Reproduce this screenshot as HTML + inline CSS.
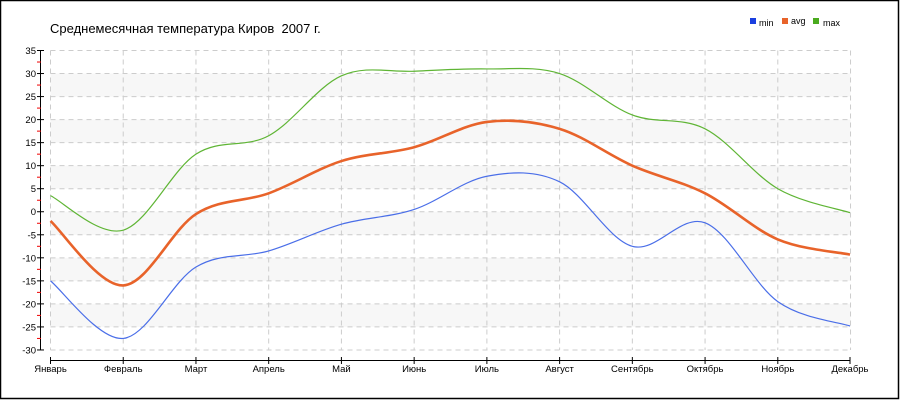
<!DOCTYPE html>
<html><head><meta charset="utf-8"><style>
html,body{margin:0;padding:0;background:#fff}
svg{display:block}
text{font-family:"Liberation Sans","DejaVu Sans",sans-serif}
</style></head><body>
<svg id="c" width="900" height="400" xmlns="http://www.w3.org/2000/svg">
<rect x="0.5" y="0.5" width="898" height="398" fill="#fff" stroke="#000" stroke-width="1.5"/>
<text x="50" y="33" font-size="13" fill="#000">Среднемесячная температура Киров &#160;2007 г.</text>
<rect x="750" y="18" width="6" height="6" fill="#1a3fe0"/><text x="759" y="26" font-size="9">min</text>
<rect x="782" y="18" width="6" height="6" fill="#e8632a"/><text x="791" y="24" font-size="9">avg</text>
<rect x="813" y="18" width="6" height="6" fill="#4aab1e"/><text x="823" y="26" font-size="9">max</text>
<g id="g"></g>
</svg>
<script>
var g=document.getElementById('g'),s='';
function Y(v){return 50.5+(35-v)*4.607;}
function X(i){return 50.5+i*72.73;}
for(var v=30;v>-30;v-=10){s+='<rect x="50.5" y="'+Y(v)+'" width="800" height="'+(5*4.607)+'" fill="#f7f7f7"/>';}
for(var v=35;v>=-30;v-=5){s+='<line x1="50.5" x2="850" y1="'+Y(v)+'" y2="'+Y(v)+'" stroke="#ccc" stroke-dasharray="5,4"/>';}
for(var i=0;i<12;i++){s+='<line x1="'+X(i)+'" x2="'+X(i)+'" y1="'+Y(35)+'" y2="'+Y(-30)+'" stroke="#ccc" stroke-dasharray="5,4"/>';}
s+='<line x1="40.5" x2="40.5" y1="'+Y(35)+'" y2="'+Y(-30)+'" stroke="#000"/>';
for(var v=35;v>=-30;v-=5){var y=Y(v);s+='<line x1="37" x2="44" y1="'+y+'" y2="'+y+'" stroke="#000"/>';s+='<text x="36" y="'+(y+3.5)+'" font-size="9.5" text-anchor="end">'+v+'</text>';
 if(v>-30){var y2=Y(v-2.5);s+='<line x1="37" x2="41" y1="'+y2+'" y2="'+y2+'" stroke="#e00"/>';}}
s+='<line x1="50.5" x2="850" y1="360.5" y2="360.5" stroke="#000"/>';
var m=['Январь','Февраль','Март','Апрель','Май','Июнь','Июль','Август','Сентябрь','Октябрь','Ноябрь','Декабрь'];
for(var i=0;i<12;i++){var x=Math.min(X(i),850);s+='<line x1="'+x+'" x2="'+x+'" y1="357" y2="364" stroke="#000"/><text x="'+x+'" y="372" font-size="9.5" text-anchor="middle">'+m[i]+'</text>';}
function path(d){var p=d.map(function(v,i){return [Math.min(X(i),850),Y(v)];});var r='M'+p[0][0]+','+p[0][1];
 for(var i=0;i<p.length-1;i++){var p0=p[i-1]||p[i],p1=p[i],p2=p[i+1],p3=p[i+2]||p2,t=6;
 r+=' C'+(p1[0]+(p2[0]-p0[0])/t)+','+(p1[1]+(p2[1]-p0[1])/t)+' '+(p2[0]-(p3[0]-p1[0])/t)+','+(p2[1]-(p3[1]-p1[1])/t)+' '+p2[0]+','+p2[1];}return r;}
var mn=[-15,-27.5,-12,-8.5,-2.7,0.5,7.7,6.5,-7.5,-2.4,-19.5,-24.8];
var av=[-2,-16,-0.5,4,11,14,19.5,18,10,4,-6,-9.3];
var mx=[3.5,-4,12.5,16.5,29.5,30.5,31,30,21,18,5,-0.2];
s+='<path d="'+path(mn)+'" fill="none" stroke="#4a6ee8" stroke-width="1.2"/>';
s+='<path d="'+path(mx)+'" fill="none" stroke="#5fb535" stroke-width="1.2"/>';
s+='<path d="'+path(av)+'" fill="none" stroke="#e8632a" stroke-width="2.6"/>';
g.innerHTML=s;
</script>
</body></html>
